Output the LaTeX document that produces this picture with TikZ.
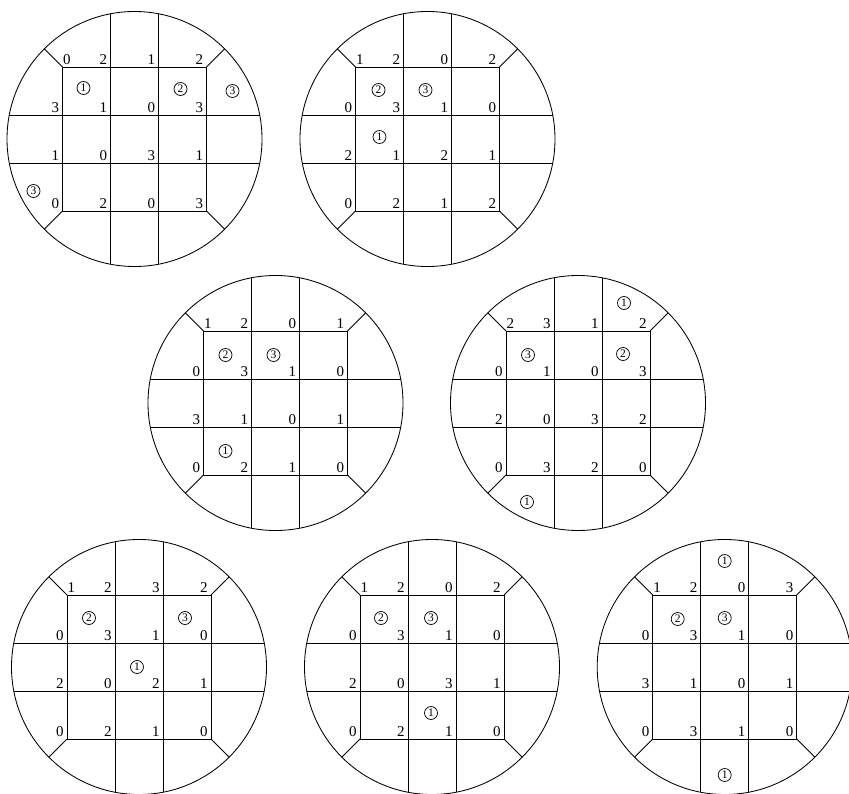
\documentclass[tikz,border=0pt]{standalone}
\usepackage{fontspec}
\setmainfont{Liberation Serif}
\tikzset{
  wline/.style={line width=0.85pt},
  num/.style={anchor=south east, inner xsep=3.2pt, inner ysep=2.3pt, font=\fontsize{15}{15}\selectfont},
  numtl/.style={num, anchor=south west, inner xsep=0.5pt},
  circnum/.style={circle, draw, line width=0.7pt, inner sep=0pt, minimum size=13pt, font=\fontsize{11.5}{11.5}\selectfont},
}
\newcommand\waferpic[5]{%
  \begin{scope}[shift={(#2,#3)}]
    \draw[wline] (0,0) circle (127.5);
    \foreach \c in {-24,24} {
      \draw[wline] (\c,-125.22) -- (\c,125.22);
      \draw[wline] (-125.22,\c) -- (125.22,\c);
    }
    \draw[wline] (-72,-72) rectangle (72,72);
    \foreach \sx/\sy in {-1/-1,1/-1,1/1,-1/1}
      \draw[wline] (\sx*72,\sy*72) -- (\sx*90.16,\sy*90.16);
    \foreach \v [count=\i from 0] in {#4} {
      \pgfmathtruncatemacro\col{mod(\i,4)}
      \pgfmathtruncatemacro\row{div(\i,4)}
      \pgfmathsetmacro\px{-72+48*\col}
      \pgfmathsetmacro\py{-72+48*\row}
      \ifnum\i=0
        \node[numtl] (#1n\i) at (\px,\py) {\v};
      \else
        \node[num] (#1n\i) at (\px,\py) {\v};
      \fi
    }
    \foreach \d/\dx/\dy [count=\j] in {#5}
      \node[circnum] (#1c\j) at (\dx,\dy) {\d};
  \end{scope}}
\begin{document}
\begin{tikzpicture}[x=1pt,y=-1pt]
  \useasboundingbox (0,0) rectangle (849,794);
  \waferpic{a}{134.5}{139}{0,2,1,2, 3,1,0,3, 1,0,3,1, 0,2,0,3}
    {1/-51/-51, 2/46/-50, 3/98/-48, 3/-101/52}
  \waferpic{b}{427.5}{139}{1,2,0,2, 0,3,1,0, 2,1,2,1, 0,2,1,2}
    {2/-49/-49, 3/-2/-49, 1/-48/-2}
  \waferpic{c}{275.5}{403}{1,2,0,1, 0,3,1,0, 3,1,0,1, 0,2,1,0}
    {2/-50/-48, 3/-2/-48, 1/-50/48}
  \waferpic{d}{578}{403}{2,3,1,2, 0,1,0,3, 2,0,3,2, 0,3,2,0}
    {1/46/-100, 3/-50/-48, 2/45/-49, 1/-51/99}
  \waferpic{e}{139}{667}{1,2,3,2, 0,3,1,0, 2,0,2,1, 0,2,1,0}
    {2/-50/-49, 3/46/-49, 1/-2/0}
  \waferpic{f}{432}{667}{1,2,0,2, 0,3,1,0, 2,0,3,1, 0,2,1,0}
    {2/-51/-49, 3/-1/-49, 1/-1/46}
  \waferpic{g}{724.7}{667}{1,2,0,3, 0,3,1,0, 3,1,0,1, 0,3,1,0}
    {1/0/-106, 2/-47/-48, 3/0/-49, 1/0/108}
\end{tikzpicture}
\end{document}
